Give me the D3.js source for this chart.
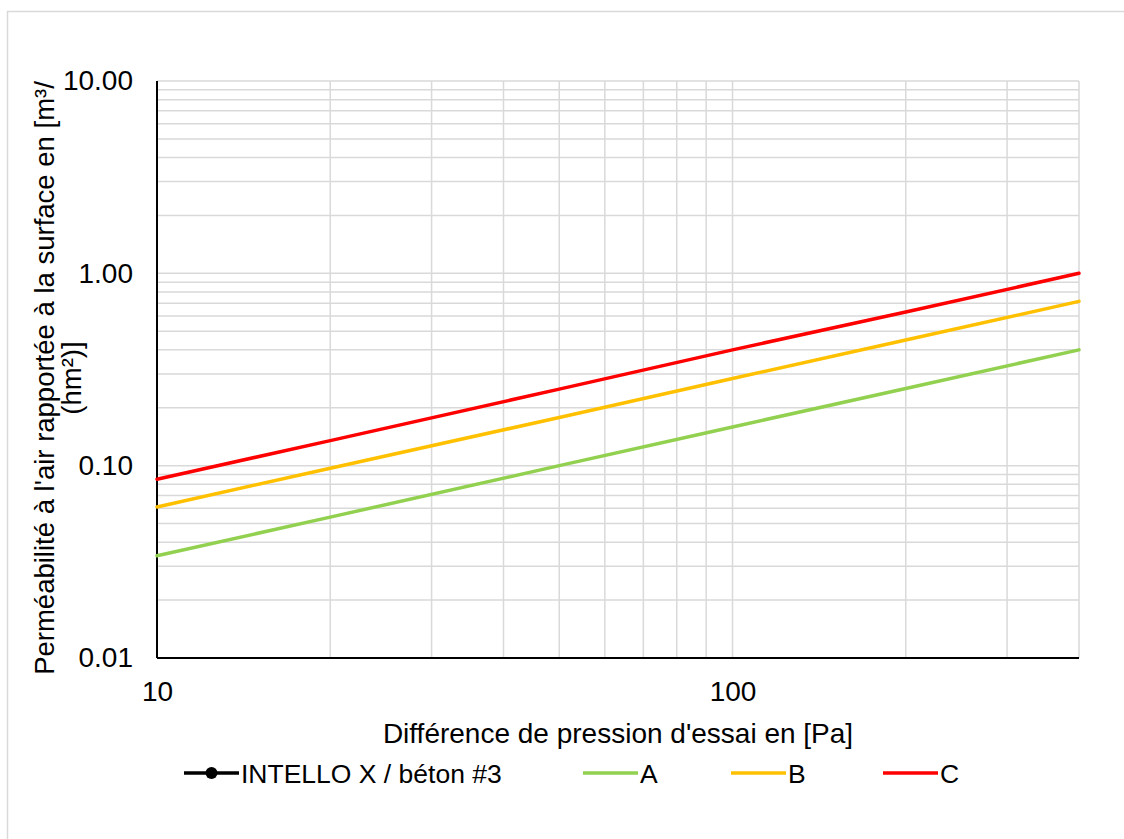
<!DOCTYPE html>
<html>
<head>
<meta charset="utf-8">
<script src="https://cdn.jsdelivr.net/npm/d3@7"></script>
<style>
  body { margin: 0; background: #fff; }
  svg { display: block; font-family: "Liberation Sans", Arial, sans-serif; }
</style>
</head>
<body>
<div id="chart"></div>
<script>
// pressure difference [Pa]
const pressures = [10, 20, 50, 100, 200, 400];
// classes [m3/(h m2)]
const classA = [0.034, 0.054, 0.100, 0.159, 0.252, 0.400];
const classB = [0.061, 0.097, 0.178, 0.284, 0.450, 0.715];
const classC = [0.085, 0.135, 0.250, 0.400, 0.630, 1.000];
const intelloX = []; // measured series, no visible points

const yTicks = [0.01, 0.1, 1, 10];
const xTicks = [10, 100];
const legendNames = ["INTELLO X / béton #3", "A", "B", "C"];

const width = 1124, height = 839;
const margin = {left: 157, right: 45, top: 81, bottom: 181};

const svg = d3.select("#chart").append("svg")
  .attr("width", width)
  .attr("height", height);

// outer chart frame
svg.append("rect")
  .attr("x", 7.5).attr("y", 11.5)
  .attr("width", 1130).attr("height", 840)
  .attr("fill", "none").attr("stroke", "#d9d9d9").attr("stroke-width", 1.5);

const x = d3.scaleLog().domain([10, 400]).range([margin.left, width - margin.right]);
const y = d3.scaleLog().domain([0.01, 10]).range([height - margin.bottom, margin.top]);

const grid = svg.append("g");

// minor + major y gridlines
let yGrid = [];
for (let p = -2; p < 1; p++) for (let k = 1; k < 10; k++) yGrid.push(k * Math.pow(10, p));
yGrid.push(10);
grid.selectAll(".hy").data(yGrid).enter().append("line")
  .attr("x1", x(10)).attr("x2", x(400))
  .attr("y1", d => y(d)).attr("y2", d => y(d))
  .attr("stroke", "#d9d9d9").attr("stroke-width", 1.5);

let xGrid = [];
for (let k = 2; k < 10; k++) xGrid.push(k * 10);
for (let k = 1; k <= 4; k++) xGrid.push(k * 100);
grid.selectAll(".vx").data(xGrid).enter().append("line")
  .attr("x1", d => x(d)).attr("x2", d => x(d))
  .attr("y1", y(0.01)).attr("y2", y(10))
  .attr("stroke", "#d9d9d9").attr("stroke-width", 1.5);

// axes
const yAxis = svg.append("g")
  .attr("transform", `translate(${margin.left},0)`)
  .call(d3.axisLeft(y).tickValues(yTicks).tickFormat(d3.format(".2f")).tickSize(0).tickPadding(24));
const xAxis = svg.append("g")
  .attr("transform", `translate(0,${height - margin.bottom})`)
  .call(d3.axisBottom(x).tickValues(xTicks).tickFormat(d3.format("d")).tickSize(0).tickPadding(23));

[yAxis, xAxis].forEach(a => {
  a.select(".domain").attr("stroke", "#000").attr("stroke-width", 2);
  a.selectAll("text").attr("font-size", 28).attr("fill", "#000")
    .style("font-family", "'Liberation Sans', Arial, sans-serif");
});
xAxis.select(".domain").attr("d", `M${x(10)},0H${x(400)}`);
yAxis.select(".domain").attr("d", `M0,${y(0.01)}V${y(10)}`);

// series
const line = d3.line().x(d => x(d[0])).y(d => y(d[1]));
const series = [
  {vals: classA, color: "#92d050"},
  {vals: classB, color: "#ffc000"},
  {vals: classC, color: "#ff0000"}
];
series.forEach(s => {
  svg.append("path")
    .datum(pressures.map((p, i) => [p, s.vals[i]]))
    .attr("d", line)
    .attr("fill", "none")
    .attr("stroke", s.color)
    .attr("stroke-width", 3.5)
    .attr("stroke-linecap", "round");
});

// axis titles
svg.append("text")
  .attr("x", (x(10) + x(400)) / 2).attr("y", 743)
  .attr("text-anchor", "middle").attr("font-size", 28)
  .text("Différence de pression d'essai en [Pa]");

const yt = svg.append("text")
  .attr("transform", "translate(0,378) rotate(-90)")
  .attr("text-anchor", "middle").attr("font-size", 27.5);
yt.append("tspan").attr("x", 0).attr("y", 54).text("Perméabilité à l'air rapportée à la surface en [m³/");
yt.append("tspan").attr("x", 0).attr("y", 81).text("(hm²)]");

// legend
const legendColors = ["#000", "#92d050", "#ffc000", "#ff0000"];
const legendX = [184, 583, 731, 883];
const lg = svg.append("g");
legendNames.forEach((name, i) => {
  const g = lg.append("g").attr("transform", `translate(${legendX[i]},773)`);
  g.append("line").attr("x1", 0).attr("x2", 55).attr("y1", 0).attr("y2", 0)
    .attr("stroke", legendColors[i]).attr("stroke-width", 3.5);
  if (i === 0) g.append("circle").attr("cx", 27.5).attr("cy", 0).attr("r", 6).attr("fill", "#000");
  g.append("text").attr("x", 57).attr("y", 9.5).attr("font-size", 26.5).text(name);
});
</script>
</body>
</html>
